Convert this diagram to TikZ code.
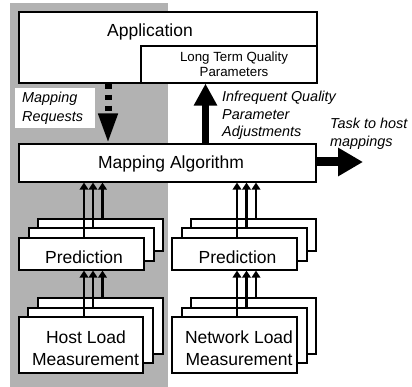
\documentclass[tikz,border=0pt]{standalone}
\usepackage{fontspec}
\setmainfont{Liberation Sans}
\usetikzlibrary{arrows.meta}
\begin{document}
\begin{tikzpicture}[x=1pt,y=-1pt,
  box/.style={draw, fill=white, line width=1.1pt, inner sep=0pt},
  big/.style={font=\fontsize{17.5}{21}\selectfont, inner sep=0pt},
  small/.style={font=\fontsize{13.3}{15}\selectfont, inner sep=0pt},
  ital/.style={font=\fontsize{14.4}{17}\selectfont\itshape, inner sep=0pt},
  thinarr/.style={line width=2.6pt, -{Triangle[length=7pt,width=8.5pt]}},
  bigarr/.style={line width=7pt, -{Triangle[length=22pt,width=22pt]}},
  dotarr/.style={line width=7pt, dash pattern=on 5pt off 6pt, -{Triangle[length=30pt,width=18pt]}},
  outarr/.style={line width=9pt, -{Triangle[length=25pt,width=27pt]}}
]
\useasboundingbox (0,0) rectangle (412,387);
% shaded host region
\fill[black!30] (10,3) rectangle (168,387);

% application
\node[box, minimum width=298pt, minimum height=71pt] (app) at (168,47.5) {};
\node[big, anchor=base] (appl) at (150,37) {Application};
\node[box, minimum width=176pt, minimum height=37pt] (ltq) at (229,64.5) {};
\node[small, anchor=base] (ltq1) at (234,62) {Long Term Quality};
\node[small, anchor=base] (ltq2) at (234,77) {Parameters};

% mapping algorithm
\node[box, minimum width=297pt, minimum height=38pt] (alg) at (167.5,163) {};
\node[big, anchor=base] (algl) at (171,169) {Mapping Algorithm};

% mapping requests label
\fill[white] (15,88) rectangle (95,128);
\node[ital, anchor=base west] (mr1) at (22,103) {Mapping};
\node[ital, anchor=base west] (mr2) at (22,122) {Requests};

% infrequent label
\node[ital, anchor=base west] (inf1) at (222,102) {Infrequent Quality};
\node[ital, anchor=base west] (inf2) at (222,119.5) {Parameter};
\node[ital, anchor=base west] (inf3) at (222,137) {Adjustments};

% task label
\node[ital, anchor=base west] (t1) at (330,129) {Task to host};
\node[ital, anchor=base west] (t2) at (330,147) {mappings};

% left prediction stack
\node[box, minimum width=125pt, minimum height=32pt] (lpb) at (100.5,235) {};
\node[box, minimum width=125pt, minimum height=33pt] (lpm) at (91.5,244.5) {};
\node[box, minimum width=125pt, minimum height=32pt] (lpf) at (81.5,254) {};
\node[big, anchor=base] (lpl) at (84,263) {Prediction};

% host load stack
\node[box, minimum width=125pt, minimum height=56pt] (hb) at (100.5,326) {};
\node[box, minimum width=125pt, minimum height=55pt] (hm) at (90.5,335.5) {};
\node[box, minimum width=124pt, minimum height=56pt] (hf) at (81,345) {};
\node[big, anchor=base] (hl1) at (86,343) {Host Load};
\node[big, anchor=base] (hl2) at (85.5,365) {Measurement};

% right prediction stack
\node[box, minimum width=125pt, minimum height=32pt] (rpb) at (253.5,235) {};
\node[box, minimum width=125pt, minimum height=33pt] (rpm) at (244.5,244.5) {};
\node[box, minimum width=125pt, minimum height=32pt] (rpf) at (234.5,254) {};
\node[big, anchor=base] (rpl) at (237.5,263) {Prediction};

% network load stack
\node[box, minimum width=125pt, minimum height=56pt] (nb) at (253.5,326) {};
\node[box, minimum width=125pt, minimum height=55pt] (nm) at (244.5,335.5) {};
\node[box, minimum width=125pt, minimum height=56pt] (nf) at (234.5,345) {};
\node[big, anchor=base] (nl1) at (239,343) {Network Load};
\node[big, anchor=base] (nl2) at (239,365) {Measurement};

% x positions of arrows
\coordinate (xl1) at (84,0);
\coordinate (xl2) at (93,0);
\coordinate (xl3) at (102.5,0);
\coordinate (xr1) at (237,0);
\coordinate (xr2) at (246.5,0);
\coordinate (xr3) at (256,0);
\coordinate (xd) at (108,0);
\coordinate (xu) at (205.5,0);
\coordinate (tip) at (363,162);

% big arrows
\draw[dotarr] (app.south -| xd) -- (alg.north -| xd);
\draw[bigarr] (alg.north -| xu) -- (ltq.south -| xu);
\draw[outarr] (alg.east |- tip) -- (tip);

% triple arrows left
\draw[thinarr] (lpf.north -| xl1) -- (alg.south -| xl1);
\draw[thinarr] (lpm.north -| xl2) -- (alg.south -| xl2);
\draw[thinarr] (lpb.north -| xl3) -- (alg.south -| xl3);
\draw[thinarr] (hf.north -| xl1) -- (lpf.south -| xl1);
\draw[thinarr] (hm.north -| xl2) -- (lpf.south -| xl2);
\draw[thinarr] (hb.north -| xl3) -- (lpf.south -| xl3);

% triple arrows right
\draw[thinarr] (rpf.north -| xr1) -- (alg.south -| xr1);
\draw[thinarr] (rpm.north -| xr2) -- (alg.south -| xr2);
\draw[thinarr] (rpb.north -| xr3) -- (alg.south -| xr3);
\draw[thinarr] (nf.north -| xr1) -- (rpf.south -| xr1);
\draw[thinarr] (nm.north -| xr2) -- (rpf.south -| xr2);
\draw[thinarr] (nb.north -| xr3) -- (rpf.south -| xr3);
\end{tikzpicture}
\end{document}
